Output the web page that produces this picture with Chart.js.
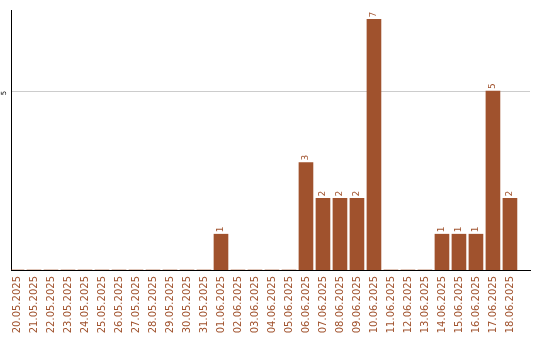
<!DOCTYPE html>
<html>
<head>
<meta charset="utf-8">
<script src="https://cdn.jsdelivr.net/npm/chart.js@4/dist/chart.umd.min.js"></script>
<style>
	html, body { margin: 0; padding: 0; background: #fff; }
	canvas { display: block; }
</style>
</head>
<body>
<canvas id="dayChart" width="540" height="340"></canvas>
<script>
// Days shown on the x axis
var days = ['20.05.2025', '21.05.2025', '22.05.2025', '23.05.2025', '24.05.2025', '25.05.2025',
	'26.05.2025', '27.05.2025', '28.05.2025', '29.05.2025', '30.05.2025', '31.05.2025',
	'01.06.2025', '02.06.2025', '03.06.2025', '04.06.2025', '05.06.2025', '06.06.2025',
	'07.06.2025', '08.06.2025', '09.06.2025', '10.06.2025', '11.06.2025', '12.06.2025',
	'13.06.2025', '14.06.2025', '15.06.2025', '16.06.2025', '17.06.2025', '18.06.2025'];
// Count per day
var counts = [0, 0, 0, 0, 0, 0, 0, 0, 0, 0, 0, 0,
	1, 0, 0, 0, 0, 3, 2, 2, 2, 7, 0, 0, 0, 1, 1, 1, 5, 2];
// Only tick on the value axis
var yTicks = [5];

var BROWN = '#a0522d';
var FONT = 'DejaVu Sans';

// Rotated value labels above bars + rotated y tick label
var rotatedLabels = {
	id: 'rotatedLabels',
	afterDatasetsDraw: function(chart) {
		var ctx = chart.ctx;
		var meta = chart.getDatasetMeta(0);
		ctx.save();
		ctx.fillStyle = BROWN;
		ctx.font = '9px "' + FONT + '"';
		ctx.textAlign = 'left';
		ctx.textBaseline = 'middle';
		meta.data.forEach(function(bar, i) {
			if (!counts[i]) { return; }
			ctx.save();
			ctx.translate(bar.x, bar.y - 2);
			ctx.rotate(-Math.PI / 2);
			ctx.fillText(String(counts[i]), 0, 0);
			ctx.restore();
		});
		// y tick labels
		var yScale = chart.scales.y;
		ctx.fillStyle = '#000';
		ctx.font = '7px "' + FONT + '"';
		ctx.textAlign = 'center';
		yTicks.forEach(function(t) {
			ctx.save();
			ctx.translate(4, yScale.getPixelForValue(t) + 2);
			ctx.rotate(-Math.PI / 2);
			ctx.fillText(String(t), 0, 0);
			ctx.restore();
		});
		ctx.restore();
	}
};

new Chart(document.getElementById('dayChart'), {
	type: 'bar',
	data: {
		datasets: [{
			data: counts.map(function(v, i) { return { x: i, y: v }; }),
			backgroundColor: BROWN,
			borderWidth: 0,
			barThickness: 14
		}]
	},
	options: {
		responsive: false,
		animation: false,
		layout: { padding: { left: 0, right: 10, top: 10, bottom: 0 } },
		plugins: { legend: { display: false }, tooltip: { enabled: false } },
		scales: {
			x: {
				type: 'linear',
				offset: false,
				min: -0.353,
				max: 30.18,
				grid: { display: false, drawTicks: false, offset: false },
				border: { display: true, color: '#000', width: 1 },
				afterBuildTicks: function(scale) {
					scale.ticks = days.map(function(d, i) { return { value: i }; });
				},
				afterFit: function(scale) { scale.height = 70; },
				ticks: {
					autoSkip: false,
					minRotation: 90,
					maxRotation: 90,
					padding: 6,
					color: BROWN,
					font: { family: FONT, size: 10 },
					callback: function(v) { return days[v]; }
				}
			},
			y: {
				min: 0,
				max: 7.263,
				grid: { color: '#cccccc', drawTicks: false },
				border: { display: true, color: '#000', width: 1 },
				afterBuildTicks: function(scale) {
					scale.ticks = yTicks.map(function(t) { return { value: t }; });
				},
				afterFit: function(scale) { scale.width = 11; },
				ticks: { display: false }
			}
		}
	},
	plugins: [rotatedLabels]
});
</script>
</body>
</html>
